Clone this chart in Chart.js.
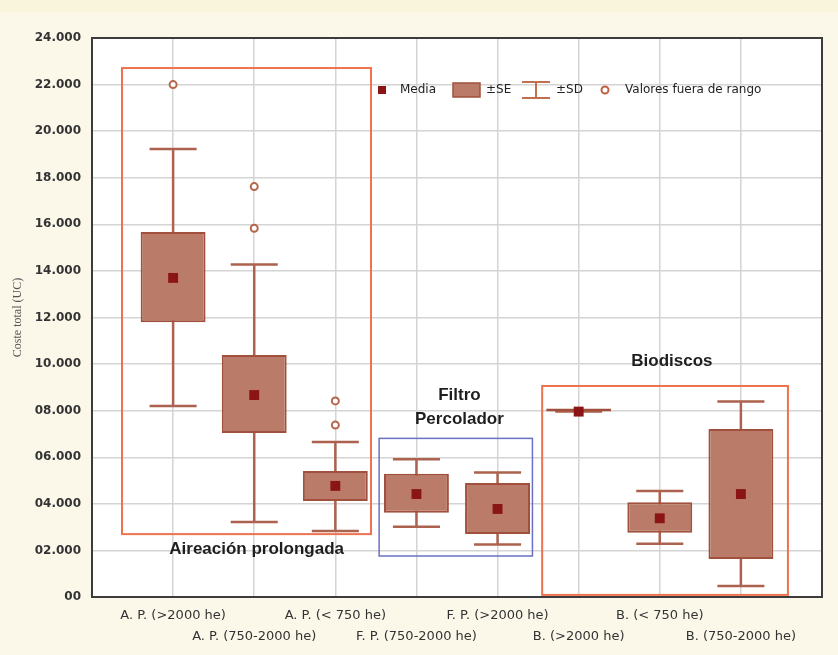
<!DOCTYPE html>
<html>
<head>
<meta charset="utf-8">
<script src="https://cdn.jsdelivr.net/npm/chart.js@4.4.1/dist/chart.umd.min.js"></script>
<style>
  html, body { margin: 0; padding: 0; background: #fbf8ea; }
  #wrap { width: 838px; height: 655px; position: relative; }
</style>
</head>
<body>
<div id="wrap"><canvas id="boxChart"></canvas></div>
<script>
const categories = ['A. P. (>2000 he)', 'A. P. (750-2000 he)', 'A. P. (< 750 he)', 'F. P. (750-2000 he)',
                    'F. P. (>2000 he)', 'B. (>2000 he)', 'B. (< 750 he)', 'B. (750-2000 he)'];
const meanValues = [13700, 8670, 4770, 4420, 3780, 7960, 3380, 4420];
const seLow  = [11800, 7040, 4120, 3620, 2700, 7960, 2760, 1630];
const seHigh = [15670, 10390, 5410, 5290, 4890, 7960, 4070, 7210];
const sdLow  = [8200, 3220, 2830, 3020, 2250, 7960, 2290, 470];
const sdHigh = [19230, 14280, 6650, 5910, 5350, 7960, 4550, 8390];
const outlierCategory = [1, 2, 2, 3, 3];
const outlierValues = [22000, 17620, 15830, 8420, 7380];
const yTicks = [0, 2000, 4000, 6000, 8000, 10000, 12000, 14000, 16000, 18000, 20000, 22000, 24000];

const CAP = 0.29; // half width of the SD caps, in category units

const whiskers = [];
categories.forEach((c, i) => {
  const x = i + 1;
  whiskers.push({ x: x, y: sdLow[i] }, { x: x, y: sdHigh[i] }, { x: x, y: null });
  whiskers.push({ x: x - CAP, y: sdHigh[i] }, { x: x + CAP, y: sdHigh[i] }, { x: x, y: null });
  whiskers.push({ x: x - CAP, y: sdLow[i] }, { x: x + CAP, y: sdLow[i] }, { x: x, y: null });
});

// page background + white plot area + frame
const frame = {
  id: 'frame',
  beforeDraw(chart) {
    const { ctx, chartArea: a } = chart;
    ctx.save();
    ctx.fillStyle = '#fbf8ea';
    ctx.fillRect(0, 0, chart.width, chart.height);
    ctx.fillStyle = '#f9f5dc';
    ctx.fillRect(0, 0, chart.width, 12);
    ctx.fillStyle = '#ffffff';
    ctx.fillRect(a.left, a.top, a.right - a.left, a.bottom - a.top);
    ctx.restore();
  },
  afterDraw(chart) {
    const { ctx, chartArea: a } = chart;
    ctx.save();
    ctx.strokeStyle = '#3c3c3c';
    ctx.lineWidth = 2;
    ctx.strokeRect(a.left, a.top, a.right - a.left, a.bottom - a.top);
    ctx.restore();
  }
};

// group rectangles and their titles
const groups = {
  id: 'groups',
  beforeDatasetsDraw(chart) {
    const { ctx, scales: { x, y } } = chart;
    const rects = [
      { x0: 0.37, x1: 3.44, y0: 2700, y1: 22710, color: '#ee7250', w: 2 },
      { x0: 3.54, x1: 5.43, y0: 1760, y1: 6810, color: '#6c70c4', w: 1.5 },
      { x0: 5.55, x1: 8.58, y0: 90, y1: 9060, color: '#ee7250', w: 2 }
    ];
    ctx.save();
    rects.forEach(r => {
      ctx.strokeStyle = r.color;
      ctx.lineWidth = r.w;
      const l = x.getPixelForValue(r.x0), rr = x.getPixelForValue(r.x1);
      const t = y.getPixelForValue(r.y1), b = y.getPixelForValue(r.y0);
      ctx.strokeRect(l, t, rr - l, b - t);
    });
    ctx.fillStyle = '#1e1e1e';
    ctx.font = 'bold 17px "Liberation Sans", Arial, sans-serif';
    ctx.textAlign = 'center';
    ctx.textBaseline = 'middle';
    const labels = [
      { t: 'Aireación prolongada', x: 2.03, y: 2050 },
      { t: 'Filtro', x: 4.53, y: 8640 },
      { t: 'Percolador', x: 4.53, y: 7650 },
      { t: 'Biodiscos', x: 7.15, y: 10110 }
    ];
    labels.forEach(l => ctx.fillText(l.t, x.getPixelForValue(l.x), y.getPixelForValue(l.y)));
    ctx.restore();
  }
};

// in-plot legend
const legendBox = {
  id: 'legendBox',
  afterDatasetsDraw(chart) {
    const ctx = chart.ctx;
    const cy = 90;
    ctx.save();
    ctx.font = '12px "DejaVu Sans", sans-serif';
    ctx.fillStyle = '#222';
    ctx.textBaseline = 'middle';
    ctx.textAlign = 'left';
    // Media
    ctx.fillStyle = '#8b1515';
    ctx.fillRect(378, cy - 4, 8, 8);
    ctx.fillStyle = '#222';
    ctx.fillText('Media', 400, cy);
    // SE box
    ctx.fillStyle = '#ba7c68';
    ctx.fillRect(453, cy - 7, 27, 14);
    ctx.strokeStyle = '#a0503c';
    ctx.lineWidth = 1.5;
    ctx.strokeRect(453, cy - 7, 27, 14);
    ctx.fillStyle = '#222';
    ctx.fillText('±SE', 486, cy);
    // SD bar
    ctx.strokeStyle = '#c0704f';
    ctx.lineWidth = 2;
    ctx.beginPath();
    ctx.moveTo(522, cy - 8); ctx.lineTo(550, cy - 8);
    ctx.moveTo(536, cy - 8); ctx.lineTo(536, cy + 8);
    ctx.moveTo(522, cy + 8); ctx.lineTo(550, cy + 8);
    ctx.stroke();
    ctx.fillText('±SD', 556, cy);
    // outliers
    ctx.strokeStyle = '#c0603f';
    ctx.fillStyle = '#fff';
    ctx.beginPath();
    ctx.arc(605, cy, 3.5, 0, Math.PI * 2);
    ctx.fill();
    ctx.stroke();
    ctx.fillStyle = '#222';
    ctx.fillText('Valores fuera de rango', 625, cy);
    ctx.restore();
  }
};

new Chart(document.getElementById('boxChart'), {
  type: 'bar',
  data: {
    datasets: [{
      type: 'line',
      label: '±SD',
      data: whiskers,
      borderColor: '#ac624e',
      borderWidth: 2.5,
      pointRadius: 0,
      spanGaps: false,
      order: 3
    }, {
      type: 'bar',
      label: '±SE',
      data: categories.map((c, i) => ({ x: i + 1, y: [seLow[i], seHigh[i]] })),
      backgroundColor: '#ba7c68',
      borderColor: '#a0503c',
      borderWidth: 2,
      borderSkipped: false,
      minBarLength: 3,
      barPercentage: 0.8,
      categoryPercentage: 1,
      order: 2
    }, {
      type: 'line',
      label: 'Media',
      data: categories.map((c, i) => ({ x: i + 1, y: meanValues[i] })),
      showLine: false,
      pointStyle: 'rect',
      pointRadius: 7,
      pointBackgroundColor: '#8b1515',
      pointBorderWidth: 0,
      order: 1
    }, {
      type: 'line',
      label: 'Valores fuera de rango',
      data: outlierCategory.map((c, i) => ({ x: c, y: outlierValues[i] })),
      showLine: false,
      pointStyle: 'circle',
      pointRadius: 3.5,
      pointBackgroundColor: '#ffffff',
      pointBorderColor: '#b5654a',
      pointBorderWidth: 2,
      order: 0
    }]
  },
  options: {
    responsive: true,
    maintainAspectRatio: false,
    animation: false,
    events: [],
    layout: { padding: { left: 0, top: 38, right: 16, bottom: 0 } },
    plugins: { legend: { display: false }, tooltip: { enabled: false } },
    scales: {
      x: {
        type: 'linear',
        min: 0,
        max: 9,
        offset: false,
        afterFit: s => { s.height = 58; },
        afterBuildTicks: s => { s.ticks = [0, 1, 2, 3, 4, 5, 6, 7, 8, 9].map(v => ({ value: v })); },
        ticks: {
          autoSkip: false,
          maxRotation: 0,
          padding: 9,
          color: '#333',
          font: { family: '"DejaVu Sans", sans-serif', size: 13, lineHeight: 1.55 },
          callback: v => {
            const name = categories[v - 1];
            if (!name) return '';
            return (v % 2 === 1) ? [name, ''] : ['', name];
          }
        },
        grid: { color: '#d4d4d4', lineWidth: 1.5, drawTicks: false, offset: false },
        border: { color: '#3c3c3c', width: 2 }
      },
      y: {
        min: 0,
        max: 24000,
        afterFit: s => { s.width = 92; },
        afterBuildTicks: s => { s.ticks = yTicks.map(v => ({ value: v })); },
        ticks: {
          padding: 11,
          color: '#333',
          font: { family: '"DejaVu Sans", sans-serif', size: 12, weight: 'bold' },
          callback: v => v === 0 ? '00' : String(v / 1000).padStart(2, '0') + '.000'
        },
        grid: { color: '#d4d4d4', lineWidth: 1.5, drawTicks: false },
        border: { color: '#3c3c3c', width: 2 },
        title: {
          display: true,
          text: 'Coste total (UC)',
          color: '#555',
          font: { family: '"Liberation Serif", serif', size: 12 },
          padding: { top: 11, bottom: 0 }
        }
      }
    }
  },
  plugins: [frame, groups, legendBox]
});
</script>
</body>
</html>
